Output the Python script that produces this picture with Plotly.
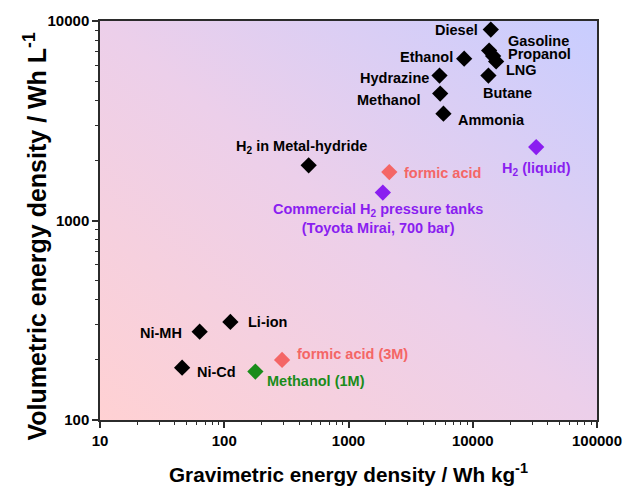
import base64
import math
import plotly.graph_objects as go

# Energy carriers: gravimetric (Wh/kg) and volumetric (Wh/L) energy density
names = [
    "Diesel", "Gasoline", "Propanol", "LNG", "Ethanol", "Butane",
    "Hydrazine", "Methanol", "Ammonia", "H<sub>2</sub> in Metal-hydride",
    "formic acid", "Commercial H<sub>2</sub> pressure tanks<br>(Toyota Mirai, 700 bar)",
    "H<sub>2</sub> (liquid)", "Li-ion", "Ni-MH", "Ni-Cd",
    "Methanol (1M)", "formic acid (3M)",
]
grav = [13970, 13550, 14580, 15420, 8530, 13370,
        5400, 5470, 5810, 478,
        2130, 1890,
        32400, 112, 63.4, 45.8,
        178, 292]
vol = [9060, 7110, 6670, 6270, 6470, 5330,
       5330, 4330, 3430, 1890,
       1750, 1380,
       2335, 310, 277, 183,
       175, 200]
group = ["fuel", "fuel", "fuel", "fuel", "fuel", "fuel",
         "fuel", "fuel", "fuel", "fuel",
         "formic", "h2",
         "h2", "fuel", "fuel", "fuel",
         "dmfc", "formic"]

colors = {"fuel": "#000000", "formic": "#F46666", "h2": "#8A1EF0", "dmfc": "#1A8C1A"}

# label placement: (xanchor, xshift, yshift) in pixels from the marker
label_pos = [
    ("right", -11, 0), ("left", 17, 10), ("left", 13, 2), ("left", 8, -9),
    ("right", -9, 2), ("center", 19, -17), ("right", -9, -2), ("right", -17, -6),
    ("left", 13, -6), ("center", -7, 18), ("left", 13, -1), ("center", -5, -26),
    ("center", 0, -22), ("left", 16, 0), ("right", -16, -1), ("left", 13, -4),
    ("left", 10, -9), ("left", 13, 6),
]

FONT = "Liberation Sans, Arial, sans-serif"

fig = go.Figure()
fig.add_trace(go.Scatter(
    x=grav, y=vol, mode="markers",
    marker=dict(symbol="diamond", size=12.5, color=[colors[g] for g in group],
                line=dict(width=0)),
    hoverinfo="skip", showlegend=False,
))

# annotations on log axes are positioned in log10 units
for n, xv, yv, g, (anc, dx, dy) in zip(names, grav, vol, group, label_pos):
    fig.add_annotation(
        x=math.log10(xv), y=math.log10(yv), xref="x", yref="y",
        text=f"<b>{n}</b>", showarrow=False,
        xanchor=anc, yanchor="middle", xshift=dx, yshift=dy,
        font=dict(family=FONT, size=14.5, color=colors[g]),
        align="center",
    )

# vertical axis title, placed as a rotated annotation
fig.add_annotation(
    text="<b>Volumetric energy density / Wh L<sup>-1</sup></b>",
    xref="paper", yref="paper", x=-0.131, y=0.462,
    xanchor="center", yanchor="middle", textangle=-90, showarrow=False,
    font=dict(family=FONT, size=25, color="#000000"),
)

# diagonal pastel gradient behind the plot area
svg = (
    '<svg xmlns="http://www.w3.org/2000/svg" width="500" height="400" '
    'preserveAspectRatio="none" viewBox="0 0 500 400">'
    '<defs><linearGradient id="g" x1="0" y1="1" x2="1" y2="0">'
    '<stop offset="0" stop-color="#FFD1D3"/>'
    '<stop offset="0.5" stop-color="#ECCFEA"/>'
    '<stop offset="1" stop-color="#C8CDFF"/>'
    '</linearGradient></defs>'
    '<rect width="500" height="400" fill="url(#g)"/></svg>'
)
src = "data:image/svg+xml;base64," + base64.b64encode(svg.encode()).decode()
fig.add_layout_image(dict(source=src, xref="paper", yref="paper", x=0, y=1,
                          sizex=1, sizey=1, sizing="stretch", layer="below",
                          xanchor="left", yanchor="top"))

axis_common = dict(
    type="log", showgrid=False, zeroline=False, automargin=False,
    showline=True, linecolor="#2b2b2b", linewidth=1.5, mirror=True,
    ticks="outside", ticklen=6, tickwidth=1.5, tickcolor="#2b2b2b",
    dtick=1, tickformat="d",
    minor=dict(ticks="outside", ticklen=3.5, tickwidth=1.2, tickcolor="#2b2b2b",
               dtick="D1", showgrid=False),
    tickfont=dict(family=FONT, size=15, color="#000000", weight="bold"),
)

fig.update_xaxes(
    range=[1, 5], **axis_common,
    title=dict(text="<b>Gravimetric energy density / Wh kg<sup>-1</sup></b>",
               font=dict(family=FONT, size=20.7, color="#000000"), standoff=20),
)
fig.update_yaxes(range=[2, 4], **axis_common)

fig.update_layout(
    width=626, height=486,
    margin=dict(l=100, r=29, t=21, b=66),
    paper_bgcolor="#FFFFFF", plot_bgcolor="rgba(0,0,0,0)",
)

fig.write_html("out.html")
